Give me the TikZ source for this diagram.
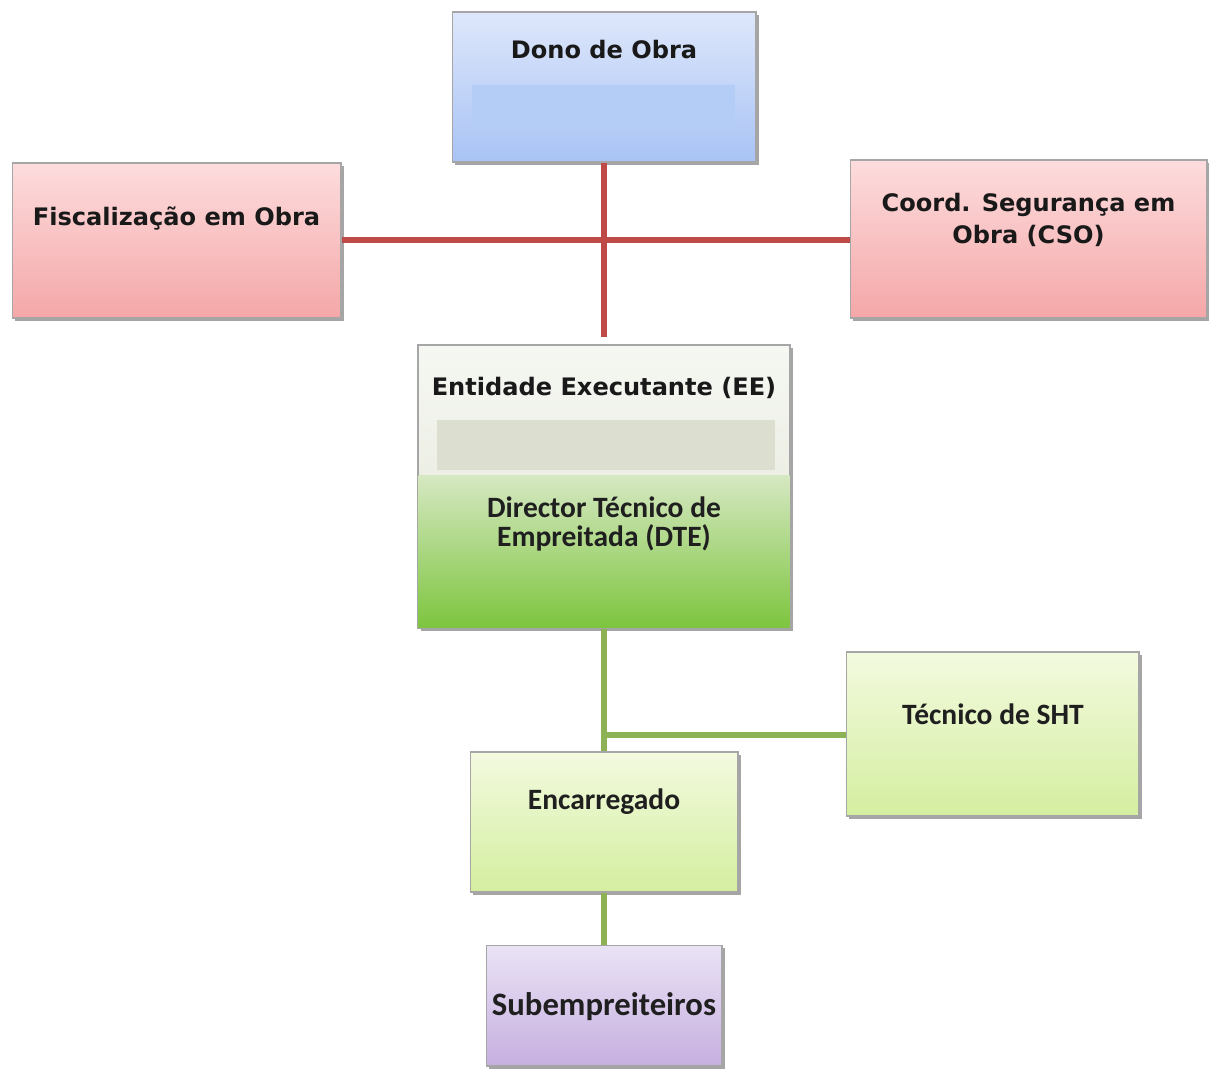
\documentclass[tikz,border=0pt]{standalone}
\usepackage{fontspec}
\newfontfamily\vfont{DejaVu Sans}
\newfontfamily\cfont{Carlito}
\usetikzlibrary{shadows}
\definecolor{redline}{HTML}{BE4B48}
\definecolor{greenline}{HTML}{8DB255}
\definecolor{blueT}{HTML}{DEE7FB}
\definecolor{blueB}{HTML}{A8C3F4}
\definecolor{blueIn}{HTML}{B4CDF7}
\definecolor{pinkT}{HTML}{FDDCDD}
\definecolor{pinkB}{HTML}{F4A7A8}
\definecolor{lgT}{HTML}{F3FADF}
\definecolor{lgB}{HTML}{D4EEA0}
\definecolor{lavT}{HTML}{EAE3F5}
\definecolor{lavB}{HTML}{C6AFE0}
\definecolor{eeT}{HTML}{F5F7F2}
\definecolor{eeM}{HTML}{E3E6D8}
\definecolor{eeIn}{HTML}{DCDFCF}
\definecolor{dgT}{HTML}{D6E8C2}
\definecolor{dgB}{HTML}{7DC53F}
\tikzset{
  box/.style={draw=black!35, line width=0.6pt, inner sep=0pt,
    drop shadow={shadow xshift=1.5pt, shadow yshift=-1.8pt, opacity=0.5, fill=black!70}},
  bluebox/.style={box, top color=blueT, bottom color=blueB},
  pinkbox/.style={box, top color=pinkT, bottom color=pinkB},
  ltgreen/.style={box, top color=lgT, bottom color=lgB},
  lavbox/.style={box, top color=lavT, bottom color=lavB},
  eebox/.style={box, top color=eeT, bottom color=eeM},
  vtxt/.style={font=\vfont\bfseries\fontsize{13.7}{18}\selectfont, text=black!90, align=center, inner sep=0pt},
  ctxt/.style={font=\cfont\bfseries\fontsize{16.8}{17}\selectfont, text=black!88, align=center, inner sep=0pt},
  redconn/.style={draw=redline, line width=2.9pt},
  greenconn/.style={draw=greenline, line width=2.9pt},
}
\begin{document}
\begin{tikzpicture}[x=0.02cm, y=-0.02cm]
\useasboundingbox (0,0) rectangle (1209,1068);
% boxes
\node[bluebox, minimum width=6.08cm, minimum height=3.0cm] (dono) at (604,87) {};
\fill[blueIn] (472,85) rectangle (735,127);
\node[pinkbox, minimum width=6.58cm, minimum height=3.1cm] (fisc) at (176.5,240.5) {};
\node[pinkbox, minimum width=7.14cm, minimum height=3.16cm] (cso) at (1028.5,239) {};
\node[eebox, minimum width=7.44cm, minimum height=5.66cm] (ee) at (604,486.5) {};
\fill[eeIn] (437,420) rectangle (775,470);
\shade[top color=dgT, bottom color=dgB] (418.5,475) rectangle (789.5,627.5);
\draw[black!35, line width=0.6pt] (ee.north west) rectangle (ee.south east);
\node[ltgreen, minimum width=5.86cm, minimum height=3.28cm] (sht) at (992.5,734) {};
\node[ltgreen, minimum width=5.36cm, minimum height=2.8cm] (enc) at (604,822) {};
\node[lavbox, minimum width=4.72cm, minimum height=2.42cm] (sub) at (604,1005.5) {};
% texts
\node[vtxt] (donoT) at (604,50) {Dono de Obra};
\node[vtxt] (fiscT) at (176.5,218) {Fiscalização em Obra};
\node[vtxt] (csoT) at (1028.5,220) {Coord. Segurança em\\Obra (CSO)};
\node[vtxt] (eeT) at (604,388) {Entidade Executante (EE)};
\node[ctxt] (dteT) at (604,524) {Director Técnico de\\Empreitada (DTE)};
\node[ctxt] (shtT) at (993,714) {Técnico de SHT};
\node[ctxt] (encT) at (604,802) {Encarregado};
\node[ctxt, font=\cfont\bfseries\fontsize{18.6}{20}\selectfont] (subT) at (604,1007) {Subempreiteiros};
% connectors
\coordinate (redend) at (604,337);
\coordinate (redx) at (604,240);
\coordinate (greenx) at (604,735);
\draw[redconn] (dono.south) -- (redend);
\draw[redconn] (fisc.east |- redx) -- (cso.west |- redx);
\draw[greenconn] (ee.south) -- (enc.north);
\draw[greenconn] (sht.west |- greenx) -- (greenx);
\draw[greenconn] (enc.south) -- (sub.north);
\end{tikzpicture}
\end{document}
